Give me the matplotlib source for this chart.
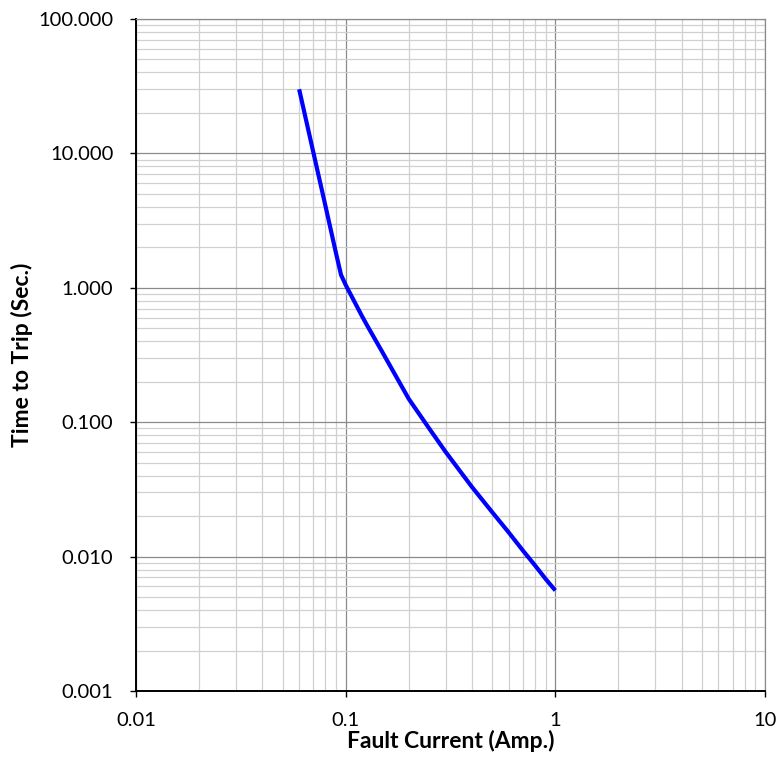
import matplotlib
matplotlib.use('Agg')
import matplotlib.pyplot as plt
from matplotlib.ticker import LogLocator, FixedLocator, FixedFormatter, NullFormatter

plt.rcParams['font.family'] = ['Lato', 'DejaVu Sans']

# Trip curve
current = [0.06, 0.07, 0.08, 0.09, 0.095, 0.1, 0.12, 0.127, 0.15, 0.2, 0.25,
           0.3, 0.4, 0.5, 0.6, 0.7, 0.8, 0.9, 1.0]
trip_time = [30.0, 10.3, 4.1, 1.8, 1.25, 1.05, 0.61, 0.52, 0.33, 0.149, 0.09,
             0.060, 0.033, 0.0214, 0.0151, 0.0111, 0.0086, 0.0068, 0.0056]

x_ticks = [0.01, 0.1, 1, 10]
x_labels = ['0.01', '0.1', '1', '10']
y_ticks = [0.001, 0.01, 0.1, 1, 10, 100]
y_labels = ['0.001', '0.010', '0.100', '1.000', '10.000', '100.000']

fig = plt.figure(figsize=(7.77, 7.67), dpi=100)
ax = fig.add_axes([136 / 777, 1 - 691 / 767, 629 / 777, 672 / 767])

ax.plot(current, trip_time, color='#0000ff', lw=3, solid_capstyle='butt',
        solid_joinstyle='round', zorder=3)

ax.set_xscale('log')
ax.set_yscale('log')
ax.set_xlim(0.01, 10)
ax.set_ylim(0.001, 100)

ax.xaxis.set_major_locator(FixedLocator(x_ticks))
ax.xaxis.set_major_formatter(FixedFormatter(x_labels))
ax.yaxis.set_major_locator(FixedLocator(y_ticks))
ax.yaxis.set_major_formatter(FixedFormatter(y_labels))
ax.xaxis.set_minor_locator(LogLocator(base=10, subs=range(2, 10), numticks=20))
ax.yaxis.set_minor_locator(LogLocator(base=10, subs=range(2, 10), numticks=20))
ax.xaxis.set_minor_formatter(NullFormatter())
ax.yaxis.set_minor_formatter(NullFormatter())

ax.grid(which='minor', color='#d0d0d0', lw=0.9, zorder=1)
ax.grid(which='major', color='#8a8a8a', lw=0.9, zorder=2)
ax.set_axisbelow(True)

ax.tick_params(which='major', direction='out', length=4.3, width=1, pad=12,
               labelsize=14.5, colors='black')
ax.tick_params(which='minor', length=0)
ax.tick_params(axis='x', pad=11)

for side in ['top', 'right']:
    ax.spines[side].set_color('#8a8a8a')
    ax.spines[side].set_linewidth(0.9)
for side in ['left', 'bottom']:
    ax.spines[side].set_color('black')
    ax.spines[side].set_linewidth(1.4)

ax.set_xlabel('Fault Current (Amp.)', fontsize=16.5, fontweight='bold', va='center')
ax.set_ylabel('Time to Trip (Sec.)', fontsize=16.5, fontweight='bold', va='center')
ax.xaxis.set_label_coords(0.5, -50 / 672)
ax.yaxis.set_label_coords(-114 / 629, 0.5)

fig.savefig('out.png', dpi=100)
